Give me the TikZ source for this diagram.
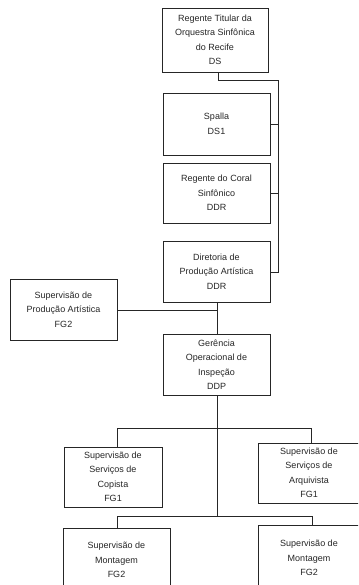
\documentclass[tikz,border=0pt]{standalone}
\usepackage{fontspec}
\setmainfont{Liberation Sans}
\begin{document}
\begin{tikzpicture}[x=1pt,y=-1pt,
  orgbox/.style={draw=black!85, line width=0.8pt, align=center, inner sep=0pt,
    font=\fontsize{9}{14.5}\selectfont, text=black!85},
  link/.style={draw=black!85, line width=0.7pt}]
\clip (0,0) rectangle (358,585);
\fill[white] (0,0) rectangle (358,585);
\node[orgbox, minimum width=106pt, minimum height=64pt] (ds) at (215,40) {Regente Titular da\\Orquestra Sinfônica\\do Recife\\DS};
\node[orgbox, minimum width=107pt, minimum height=62pt] (spalla) at (216.5,124) {Spalla\\DS1};
\node[orgbox, minimum width=107pt, minimum height=60pt] (coral) at (216.5,193) {Regente do Coral\\Sinfônico\\DDR};
\node[orgbox, minimum width=107pt, minimum height=61pt] (dir) at (216.5,271.5) {Diretoria de\\Produção Artística\\DDR};
\node[orgbox, minimum width=107pt, minimum height=61pt] (sup) at (63.5,309.5) {Supervisão de\\Produção Artística\\FG2};
\node[orgbox, minimum width=107pt, minimum height=61pt] (ger) at (216.5,364.5) {Gerência\\Operacional de\\Inspeção\\DDP};
\node[orgbox, minimum width=98pt, minimum height=60pt] (cop) at (113,477) {Supervisão de\\Serviços de\\Copista\\FG1};
\node[orgbox, minimum width=102pt, minimum height=60pt] (arq) at (309,473) {Supervisão de\\Serviços de\\Arquivista\\FG1};
\node[orgbox, minimum width=107pt, minimum height=64pt] (monl) at (116.5,560) {Supervisão de\\Montagem\\FG2};
\node[orgbox, minimum width=102pt, minimum height=66pt] (monr) at (309,558) {Supervisão de\\Montagem\\FG2};
% right-side chain
\coordinate (a1) at (218,80);
\coordinate (a2) at (278,80);
\coordinate (a3) at (278,272);
\draw[link] (ds.south -| a1) -- (a1) -- (a2) -- (a3) -- (dir.east |- a3);
\draw[link] (spalla.east) -- (spalla.east -| a2);
\draw[link] (coral.east) -- (coral.east -| a2);
% main spine
\coordinate (m0) at (217,302);
\draw[link] (dir.south -| m0) -- (ger.north -| m0);
\draw[link] (sup.east |- 0,310) -- (217,310);
\coordinate (m1) at (217,428);
\coordinate (m2) at (217,516);
\draw[link] (ger.south -| m1) -- (m2);
\coordinate (l1) at (117,428);
\coordinate (r1) at (311,428);
\draw[link] (cop.north -| l1) -- (l1) -- (r1) -- (arq.north -| r1);
\coordinate (l2) at (117,516);
\coordinate (r2) at (312,516);
\draw[link] (monl.north -| l2) -- (l2) -- (r2) -- (monr.north -| r2);
\end{tikzpicture}
\end{document}
